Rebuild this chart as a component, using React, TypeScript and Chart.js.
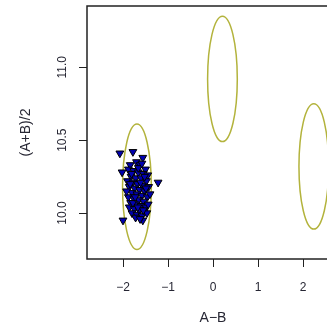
import React, { useEffect, useRef } from "react";
import { Chart, registerables } from "chart.js";

Chart.register(...registerables);

const xTicks = [-2, -1, 0, 1, 2];
const yTicks = [10.0, 10.5, 11.0];
const yTickLabels = ["10.0", "10.5", "11.0"];

const ellipseCx = [-1.69, 0.21, 2.24];
const ellipseCy = [10.18, 10.92, 10.32];
const ellipseRx = [0.32, 0.33, 0.33];
const ellipseRy = [0.43, 0.43, 0.43];

const pointsX = [
  -2.07, -1.78, -1.56, -1.22, -2.0, -2.02, -1.56, -1.84, -1.7, -1.62, -1.5, -1.88, -1.76,
  -1.66, -1.55, -1.45, -1.82, -1.72, -1.6, -1.48, -1.9, -1.78, -1.68, -1.57, -1.43, -1.86,
  -1.74, -1.63, -1.52, -1.8, -1.69, -1.58, -1.46, -1.88, -1.76, -1.65, -1.54, -1.83, -1.71,
  -1.6, -1.49, -1.86, -1.75, -1.64, -1.53, -1.8, -1.69, -1.58, -1.47, -1.72, -1.62, -1.84,
  -1.52, -1.66, -1.78, -1.44, -1.92, -1.4, -1.58, -1.73, -1.49, -1.61, -1.67, -1.81, -1.55,
];
const pointsY = [
  10.41, 10.42, 10.38, 10.21, 9.95, 10.28, 9.95, 10.33, 10.35, 10.33, 10.3, 10.3, 10.29,
  10.28, 10.27, 10.26, 10.25, 10.24, 10.24, 10.22, 10.22, 10.21, 10.2, 10.19, 10.18, 10.18,
  10.17, 10.16, 10.15, 10.14, 10.13, 10.12, 10.11, 10.11, 10.1, 10.09, 10.08, 10.07, 10.06,
  10.05, 10.04, 10.04, 10.03, 10.02, 10.01, 10.0, 9.99, 9.98, 10.0, 9.97, 9.96, 10.2,
  10.25, 10.31, 10.07, 10.06, 10.15, 10.13, 10.34, 10.11, 10.17, 10.21, 10.04, 10.27, 10.02,
];

const TEXT = "#262633";
const FAMILY = "'Liberation Sans', Arial, sans-serif";

export default function App() {
  const ref = useRef<HTMLCanvasElement | null>(null);

  useEffect(() => {
    if (!ref.current) return;
    const data = pointsX.map((x, i) => ({ x, y: pointsY[i] }));

    const customDraw = {
      id: "customDraw",
      beforeDatasetsDraw(chart: any) {
        const { ctx } = chart;
        const xs = chart.scales.x;
        const ys = chart.scales.y;
        ctx.save();
        ctx.strokeStyle = "#b3b33c";
        ctx.lineWidth = 1.5;
        for (let i = 0; i < ellipseCx.length; i++) {
          const cx = xs.getPixelForValue(ellipseCx[i]);
          const cy = ys.getPixelForValue(ellipseCy[i]);
          const rx = Math.abs(xs.getPixelForValue(ellipseCx[i] + ellipseRx[i]) - cx);
          const ry = Math.abs(ys.getPixelForValue(ellipseCy[i] + ellipseRy[i]) - cy);
          ctx.beginPath();
          ctx.ellipse(cx, cy, rx, ry, 0, 0, Math.PI * 2);
          ctx.stroke();
        }
        ctx.restore();
      },
      afterDraw(chart: any) {
        const { ctx, chartArea } = chart;
        const ys = chart.scales.y;
        ctx.save();
        ctx.strokeStyle = "#222";
        ctx.lineWidth = 1.5;
        ctx.strokeRect(chartArea.left, chartArea.top, chartArea.right - chartArea.left, chartArea.bottom - chartArea.top);
        ctx.fillStyle = TEXT;
        ctx.font = "12px " + FAMILY;
        ctx.textAlign = "center";
        ctx.textBaseline = "middle";
        yTicks.forEach((v, i) => {
          const py = ys.getPixelForValue(v);
          ctx.save();
          ctx.translate(63, py);
          ctx.rotate(-Math.PI / 2);
          ctx.fillText(yTickLabels[i], 0, 0);
          ctx.restore();
        });
        ctx.restore();
      },
    };

    const chart = new Chart(ref.current, {
      type: "scatter",
      data: {
        datasets: [
          {
            data,
            pointStyle: "triangle",
            rotation: 180,
            pointRadius: 4.5,
            backgroundColor: "#0000b0",
            borderColor: "#000",
            borderWidth: 1,
          },
        ],
      },
      options: {
        responsive: false,
        animation: false,
        layout: { padding: { top: 6, right: 6, left: 0, bottom: 0 } },
        plugins: { legend: { display: false }, tooltip: { enabled: false } },
        scales: {
          x: {
            type: "linear",
            min: -2.8,
            max: 2.8,
            afterBuildTicks: (scale: any) => {
              scale.ticks = xTicks.map((v) => ({ value: v }));
            },
            afterFit: (scale: any) => {
              scale.height = 69;
            },
            grid: { drawOnChartArea: false, drawTicks: true, tickLength: 8, color: "#222", lineWidth: 1 },
            border: { display: false },
            ticks: {
              color: TEXT,
              font: { size: 12, family: FAMILY },
              padding: 13,
              maxRotation: 0,
              callback: (v: any) => (Number(v) < 0 ? "\u2212" + Math.abs(Number(v)) : String(v)),
            },
            title: {
              display: true,
              text: "A\u2212B",
              color: TEXT,
              font: { size: 14, family: FAMILY },
              padding: { top: 0, bottom: 1 },
            },
          },
          y: {
            type: "linear",
            min: 9.685,
            max: 11.42,
            afterBuildTicks: (scale: any) => {
              scale.ticks = yTicks.map((v) => ({ value: v }));
            },
            afterFit: (scale: any) => {
              scale.width = 87;
            },
            grid: { drawOnChartArea: false, drawTicks: true, tickLength: 8, color: "#222", lineWidth: 1 },
            border: { display: false },
            ticks: { display: false },
            title: {
              display: true,
              text: "(A+B)/2",
              color: TEXT,
              font: { size: 14, family: FAMILY },
              padding: { top: 18, bottom: 0 },
            },
          },
        },
      },
      plugins: [customDraw],
    });
    return () => chart.destroy();
  }, []);

  return (
    <div style={{ position: "absolute", left: 0, top: 0, width: 327, height: 328, overflow: "hidden", background: "#fff" }}>
      <canvas ref={ref} width={345} height={328} style={{ display: "block" }} />
    </div>
  );
}
